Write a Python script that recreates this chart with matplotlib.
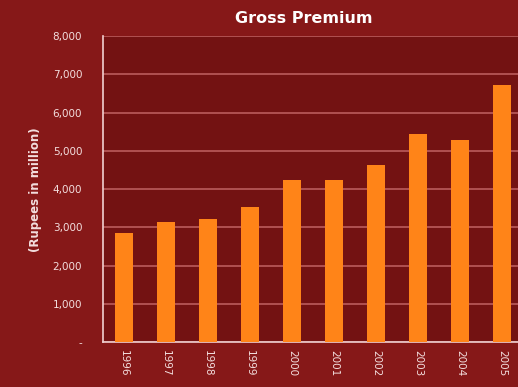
import numpy as np
import matplotlib.pyplot as plt
from matplotlib.ticker import FuncFormatter

years = ['1996', '1997', '1998', '1999', '2000', '2001', '2002', '2003', '2004', '2005']
premium = [2850, 3130, 3220, 3530, 4240, 4240, 4630, 5440, 5290, 6720]

bg = '#861818'
plot_bg = '#731212'
txt = '#f3dede'

fig = plt.figure(figsize=(5.18, 3.87), dpi=100, facecolor=bg)
ax = fig.add_axes([0.199, 0.116, 0.811, 0.791], facecolor=plot_bg)

x = np.arange(len(years))
ax.bar(x, premium, width=0.42, color='#ff8418', zorder=3)

ax.set_xlim(-0.5, 9.5)
ax.set_ylim(0, 8000)
ax.set_yticks(np.arange(0, 8001, 1000))
ax.yaxis.set_major_formatter(FuncFormatter(lambda v, p: '-' if v == 0 else f'{int(v):,}'))
ax.grid(axis='y', color='#c06262', linewidth=1.1, zorder=1)

ax.set_xticks(x)
ax.set_xticklabels(years, rotation=270, fontsize=7.5, color=txt)
ax.tick_params(axis='y', labelsize=7.5, labelcolor=txt, length=0, pad=15)
ax.tick_params(axis='x', length=0, pad=6)

for s in ['top', 'right']:
    ax.spines[s].set_visible(False)
ax.spines['left'].set_color('#f0d0d0')
ax.spines['bottom'].set_color('#f0d0d0')
ax.spines['left'].set_linewidth(1.2)
ax.spines['bottom'].set_linewidth(1.2)

fig.text(0.587, 0.953, 'Gross Premium', ha='center', va='center',
         fontsize=11.5, fontweight='bold', color='white')
fig.text(0.068, 0.51, '(Rupees in million)', ha='center', va='center',
         rotation=90, fontsize=8.5, fontweight='bold', color=txt)

fig.savefig('out.png', dpi=100, facecolor=bg)
